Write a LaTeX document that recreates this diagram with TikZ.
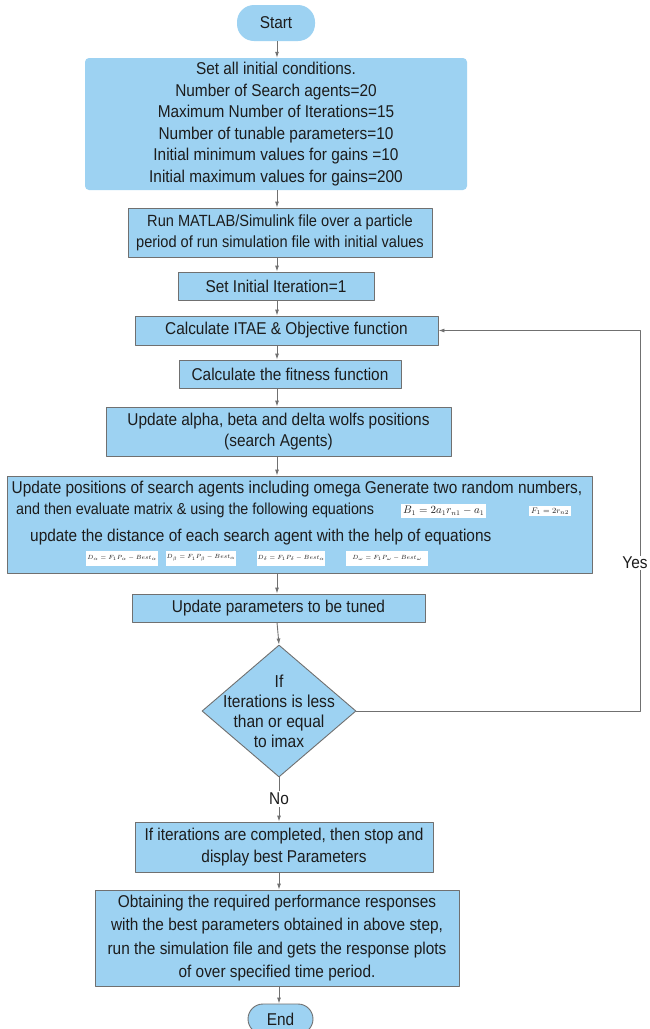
\documentclass[tikz,border=0pt]{standalone}
\usepackage{amsmath}
\usepackage{fontspec}
\setmainfont{Liberation Sans}[FakeStretch=0.9]
\usetikzlibrary{arrows.meta,calc,positioning,shapes.geometric}
\definecolor{boxblue}{RGB}{157,210,242}
\definecolor{edgegray}{RGB}{112,112,112}
\definecolor{inkdark}{RGB}{28,28,28}

\begin{document}
\begin{tikzpicture}[x=1pt, y=-1pt, line join=round, >=Latex,
    every node/.style={text=inkdark, font=\fontsize{17.1}{21.6}\selectfont},
    termbox/.style={fill=boxblue, rounded corners=15pt, inner sep=0pt},
    initbox/.style={fill=boxblue, rounded corners=4pt, align=center, inner sep=0pt},
    procbox/.style={draw=edgegray, line width=0.9pt, fill=boxblue, align=center, inner sep=0pt},
    eqbox/.style={fill=white, inner sep=2pt, font=\fontsize{10.5}{12}\selectfont},
    eqsmall/.style={fill=white, inner sep=1pt, minimum height=15, font=\fontsize{6.5}{8}\selectfont},
    flow/.style={draw=edgegray, line width=0.9pt, -{Latex[length=6pt,width=4pt]}},
    plain/.style={draw=edgegray, line width=0.9pt}]
    \useasboundingbox (0,0) rectangle (649,1029);
    \fill[white] (0,0) rectangle (649,1029);

    % x of the straight flow line and of the return loop
    \coordinate (axis) at (277,0);
    \coordinate (loopx) at (640,0);

    % start and set-up steps
    \node[termbox, rounded corners=17pt, minimum width=78, minimum height=36] (start) at (276,23) {Start};
    \node[initbox, minimum width=382, minimum height=132] (init) at (276,124)
        {Set all initial conditions.\\ Number of Search agents=20\\ Maximum Number of Iterations=15\\
         Number of tunable parameters=10\\ Initial minimum values for gains =10\\ Initial maximum values for gains=200};
    \node[procbox, minimum width=304, minimum height=49, font=\fontsize{16.2}{21}\selectfont] (runsim) at (280,232.5)
        {Run MATLAB/Simulink file over a particle\\ period of run simulation file with initial values};
    \node[procbox, minimum width=196, minimum height=28] (iter) at (276,286) {Set Initial Iteration=1};

    % main loop
    \node[procbox, minimum width=303, minimum height=29] (itae) at (286.5,330.5) {Calculate ITAE \& Objective function};
    \node[procbox, minimum width=222, minimum height=28] (fit) at (290,374) {Calculate the fitness function};
    \node[procbox, minimum width=345, minimum height=49] (wolf) at (278.5,431.5)
        {Update alpha, beta and delta wolfs positions\\ (search Agents)};
    \node[procbox, minimum width=585, minimum height=97] (upd) at (299.5,524.5) {};
    \node (upda) at (297,489) {Update positions of search agents including omega Generate two random numbers,};
    \node[anchor=west, inner sep=0pt, font=\fontsize{15.9}{20}\selectfont] (updb) at (16,510)
        {and then evaluate matrix \& using the following equations};
    \node[eqbox, anchor=west] (eqB) at (401,511) {$B_1 = 2a_1r_{n1}-a_1$};
    \node[eqbox, anchor=west, font=\fontsize{8.5}{10}\selectfont] (eqF) at (529,511) {$F_1=2r_{n2}$};
    \node[anchor=west, inner sep=0pt] (updc) at (30,537) {update the distance of each search agent with the help of equations};
    \node[eqsmall, minimum width=66] (eqDa) at (122,558) {$D_\alpha=F_1P_\alpha-Best_\alpha$};
    \node[eqsmall, minimum width=66] (eqDb) at (201,558) {$D_\beta=F_1P_\beta-Best_\alpha$};
    \node[eqsmall, minimum width=68] (eqDd) at (291,558) {$D_\delta=F_1P_\delta-Best_\alpha$};
    \node[eqsmall, minimum width=82] (eqDo) at (387,558) {$D_\omega=F_1P_\omega-Best_\omega$};
    \node[procbox, minimum width=293, minimum height=28] (tune) at (278.5,608) {Update parameters to be tuned};

    % decision
    \node[diamond, draw=edgegray, line width=0.9pt, fill=boxblue, inner sep=0pt,
          minimum width=154, minimum height=132] (dec) at (279,711) {};
    \node[align=center, font=\fontsize{17.3}{20}\selectfont] (dectext) at (dec.center)
        {If\\ Iterations is less\\ than or equal\\ to imax};
    \node[inner sep=2pt] (no) at (279,799) {No};

    % finish
    \node[procbox, minimum width=298, minimum height=50] (stop) at (284,847)
        {If iterations are completed, then stop and\\ display best Parameters};
    \node[procbox, minimum width=364, minimum height=96, font=\fontsize{17.1}{23.5}\selectfont] (resp) at (277,938)
        {Obtaining the required performance responses\\ with the best parameters obtained in above step,\\
         run the simulation file and gets the response plots\\ of over specified time period.};
    \node[termbox, draw=edgegray, line width=0.9pt, minimum width=65, minimum height=30] (end) at (280.5,1019) {End};

    % connectors
    \draw[flow] (axis |- start.south) -- (axis |- init.north);
    \draw[flow] (axis |- init.south) -- (axis |- runsim.north);
    \draw[flow] (axis |- runsim.south) -- (axis |- iter.north);
    \draw[flow] (axis |- iter.south) -- (axis |- itae.north);
    \draw[flow] (axis |- itae.south) -- (axis |- fit.north);
    \draw[flow] (axis |- fit.south) -- (axis |- wolf.north);
    \draw[flow] (axis |- wolf.south) -- (axis |- upd.north);
    \draw[flow] (axis |- upd.south) -- (axis |- tune.north);
    \draw[flow] (axis |- tune.south) -- (dec.north);
    \draw[plain] (dec.south) -- (no.north);
    \draw[flow] (no.south) -- (no.south |- stop.north);
    \draw[flow] (no.south |- stop.south) -- (no.south |- resp.north);
    \draw[flow] (no.south |- resp.south) -- (no.south |- end.north);
    \draw[flow] (dec.east) -- (dec.east -| loopx) -- (itae.east -| loopx) -- (itae.east);
    \node[fill=white, inner sep=1pt] (yes) at (635,563) {Yes};
\end{tikzpicture}
\end{document}
